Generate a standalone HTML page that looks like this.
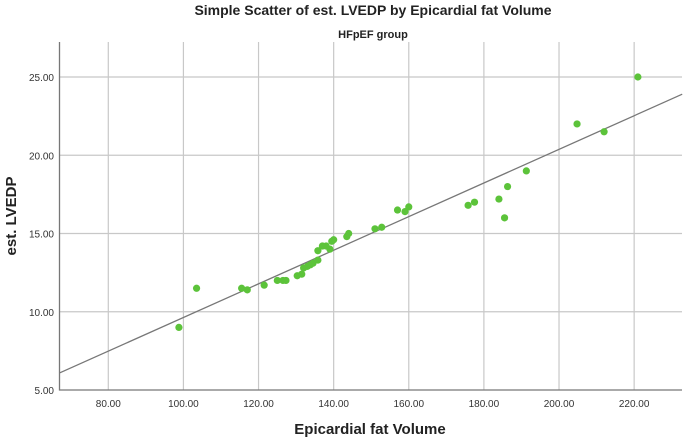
<!DOCTYPE html>
<html><head><meta charset="utf-8"><style>
body{margin:0;background:#fff;width:685px;height:438px;overflow:hidden}
text{font-family:"Liberation Sans",sans-serif}
</style></head><body>
<svg id="chart" width="685" height="438" xmlns="http://www.w3.org/2000/svg">
<text x="373" y="15" text-anchor="middle" font-size="14" font-weight="bold" fill="#222">Simple Scatter of est. LVEDP by Epicardial fat Volume</text>
<text x="373" y="38" text-anchor="middle" font-size="11" font-weight="bold" fill="#222">HFpEF group</text>
<text x="370" y="434" text-anchor="middle" font-size="15" font-weight="bold" fill="#222">Epicardial fat Volume</text>
<text transform="translate(16,216) rotate(-90)" text-anchor="middle" font-size="15" font-weight="bold" fill="#222">est. LVEDP</text>
<g id="grid"></g><g id="marks"></g><g id="axes"></g>
</svg>
<script>
const xTicks=[80,100,120,140,160,180,200,220];
const yTicks=[5,10,15,20,25];
const xVals=[98.8,103.5,115.5,117,121.5,125,126.5,127.3,130.3,131.5,132,133,133.8,134.5,135.8,135.8,137,138,139,139.5,140,143.5,144,151,152.8,157,159,160,175.8,177.5,184,185.5,186.3,191.3,204.8,212,221];
const yVals=[9.0,11.5,11.5,11.4,11.7,12.0,12.0,12.0,12.3,12.4,12.8,12.9,13.0,13.1,13.3,13.9,14.2,14.2,14.0,14.5,14.6,14.8,15.0,15.3,15.4,16.5,16.4,16.7,16.8,17.0,17.2,16.0,18.0,19.0,22.0,21.5,25.0];
const fitLine=[[67.1,6.1],[232.8,23.9]];
const L=59.5,R=682,T=42,B=390;
const xs=v=>108.3+(v-80)*3.756;
const ys=v=>390-(v-5)*15.65;
const NS="http://www.w3.org/2000/svg";
function mk(p,t,a){const e=document.createElementNS(NS,t);for(const k in a)e.setAttribute(k,a[k]);p.appendChild(e);return e;}
const g=document.getElementById('grid'),m=document.getElementById('marks'),ax=document.getElementById('axes');
xTicks.forEach(v=>{const l=mk(g,'line',{x1:xs(v),x2:xs(v),y1:T,y2:B,stroke:'#c8c8c8','stroke-width':1.2});


const t=mk(ax,'text',{x:xs(v),y:407,'text-anchor':'middle','font-size':10,fill:'#333'});t.textContent=v.toFixed(2);

});
yTicks.forEach(v=>{if(v>5){const l=mk(g,'line',{x1:L,x2:R,y1:ys(v),y2:ys(v),stroke:'#c8c8c8','stroke-width':1.2});

}
const t=mk(ax,'text',{x:54,y:ys(v)+4,'text-anchor':'end','font-size':10,fill:'#333'});t.textContent=v.toFixed(2);

});
const fl=mk(m,'line',{x1:xs(fitLine[0][0]),y1:ys(fitLine[0][1]),x2:xs(fitLine[1][0]),y2:ys(fitLine[1][1]),stroke:'#777','stroke-width':1.3});


xVals.forEach((v,i)=>{const c=mk(m,'circle',{cx:xs(v),cy:ys(yVals[i]),r:3.6,fill:'#5cc33a'});

});
const a=mk(ax,'path',{d:`M${L},${T}V${B}H${R}`,stroke:'#777','stroke-width':1.3,fill:'none'});


</script>
</body></html>
